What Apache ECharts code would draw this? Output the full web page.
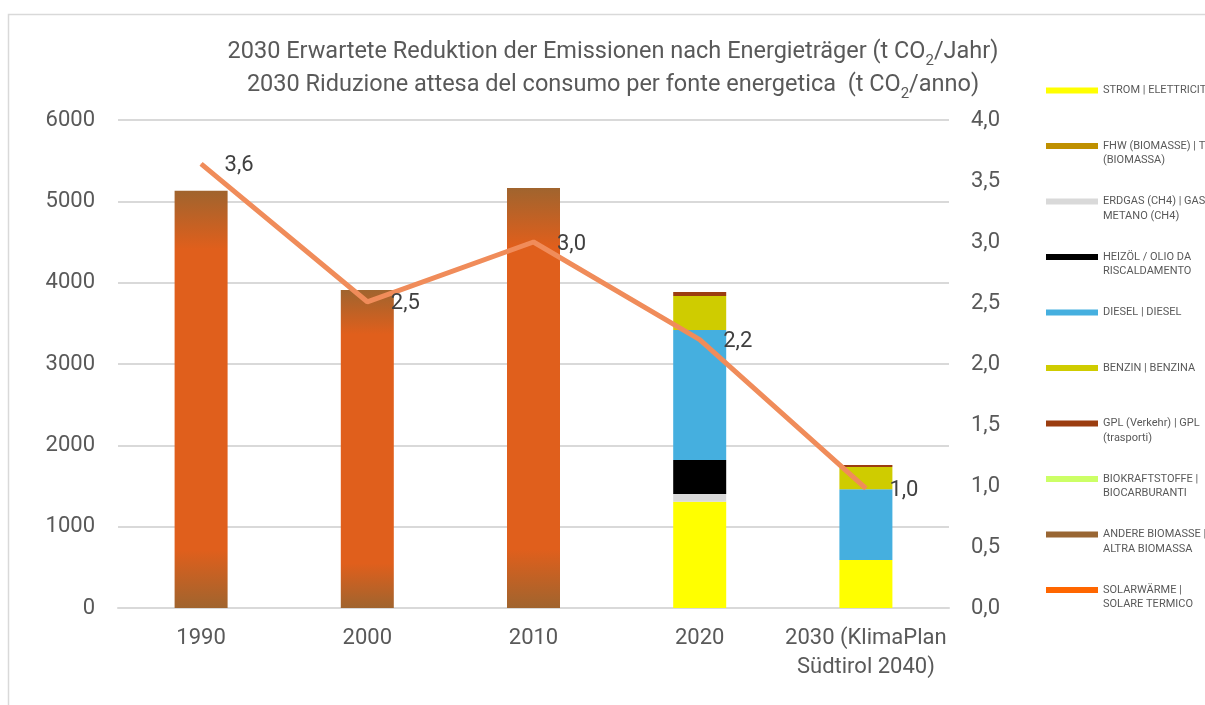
<!DOCTYPE html>
<html>
<head>
<meta charset="utf-8">
<script src="https://cdn.jsdelivr.net/npm/echarts@6/dist/echarts.min.js"></script>
<style>
html,body{margin:0;padding:0;background:#fff;}
#c{width:1205px;height:705px;}
</style>
</head>
<body>
<div id="c"></div>
<script>
// ---- data ----
const categories = ['1990', '2000', '2010', '2020', '2030 (KlimaPlan\nSüdtirol 2040)'];
const totalHistoric = [5130, 3910, 5165, null, null];
const strom       = [null, null, null, 1307, 590];
const fhw         = [null, null, null, 0, 0];
const erdgas      = [null, null, null, 95, 0];
const heizoel     = [null, null, null, 418, 0];
const diesel      = [null, null, null, 1598, 869];
const benzin      = [null, null, null, 418, 275];
const gpl         = [null, null, null, 49, 24];
const biokraft    = [null, null, null, 0, 0];
const andereBio   = [null, null, null, 0, 0];
const solar       = [null, null, null, 0, 0];
const perCapita   = [3.64, 2.51, 3.0, 2.2, 0.98];
const leftTicks   = [0, 1000, 2000, 3000, 4000, 5000, 6000];
const rightTicks  = ['0,0','0,5','1,0','1,5','2,0','2,5','3,0','3,5','4,0'];

const seriesNames = [
  'STROM | ELETTRICITÀ',
  'FHW (BIOMASSE) | TLR (BIOMASSA)',
  'ERDGAS (CH4) | GAS METANO (CH4)',
  'HEIZÖL / OLIO DA RISCALDAMENTO',
  'DIESEL | DIESEL',
  'BENZIN | BENZINA',
  'GPL (Verkehr) | GPL (trasporti)',
  'BIOKRAFTSTOFFE | BIOCARBURANTI',
  'ANDERE BIOMASSE | ALTRA BIOMASSA',
  'SOLARWÄRME | SOLARE TERMICO'
];
const legendLabels = [
  'STROM | ELETTRICITÀ',
  'FHW (BIOMASSE) | TLR\n(BIOMASSA)',
  'ERDGAS (CH4) | GAS\nMETANO (CH4)',
  'HEIZÖL / OLIO DA\nRISCALDAMENTO',
  'DIESEL | DIESEL',
  'BENZIN | BENZINA',
  'GPL (Verkehr) | GPL\n(trasporti)',
  'BIOKRAFTSTOFFE |\nBIOCARBURANTI',
  'ANDERE BIOMASSE |\nALTRA BIOMASSA',
  'SOLARWÄRME |\nSOLARE TERMICO'
];
const seriesValues = [strom, fhw, erdgas, heizoel, diesel, benzin, gpl, biokraft, andereBio, solar];
const seriesColors = ['#FFFF00', '#BF9000', '#D9D9D9', '#000000', '#45AFDF', '#CFCC00', '#9B3D10', '#CCFF66', '#996633', '#FF6600'];

// ---- chart ----
const chart = echarts.init(document.getElementById('c'), null, {renderer: 'canvas'});
const FONT = 'Roboto';
const TXT = '#595959';

const barSeries = [{
  name: 'GESAMT',
  type: 'bar',
  stack: 's',
  barWidth: 53,
  data: totalHistoric,
  itemStyle: {
    color: new echarts.graphic.LinearGradient(0, 0, 0, 1, [
      {offset: 0, color: '#A0642E'},
      {offset: 0.14, color: '#E05F1C'},
      {offset: 0.86, color: '#E05F1C'},
      {offset: 1, color: '#A0642E'}
    ])
  },
  emphasis: {disabled: true}
}];
seriesNames.forEach((n, i) => {
  barSeries.push({
    name: n,
    type: 'bar',
    stack: 's',
    barWidth: 53,
    data: seriesValues[i],
    itemStyle: {color: seriesColors[i]},
    emphasis: {disabled: true}
  });
});

const lineSeries = {
  name: 'pro Kopf',
  type: 'line',
  yAxisIndex: 1,
  data: perCapita,
  symbol: 'circle',
  symbolSize: 1,
  showSymbol: true,
  z: 10,
  itemStyle: {color: '#F08C5A'},
  lineStyle: {color: '#F08C5A', width: 5},
  emphasis: {disabled: true},
  label: {
    show: true,
    position: 'right',
    distance: 23,
    offset: [0, 2],
    fontFamily: FONT,
    fontSize: 22,
    color: '#404040',
    formatter: p => Number(p.value).toFixed(1).replace('.', ',')
  }
};

// legends: one per entry for exact placement
const LH = 14.5;
const legends = seriesNames.map((n, i) => {
  const cy = 90.5 + 55.5 * i;
  const twoLine = legendLabels[i].indexOf('\n') >= 0;
  const boxH = twoLine ? 3 * LH : LH;
  // a blank first line keeps the first text line level with the icon
  const shown = twoLine ? ' \n' + legendLabels[i] : legendLabels[i];
  return {
    data: [n],
    orient: 'vertical',
    left: 1046,
    top: cy - boxH / 2,
    padding: 0,
    itemWidth: 52,
    itemHeight: 6,
    icon: 'rect',
    selectedMode: false,
    formatter: () => shown,
    textStyle: {
      fontFamily: FONT,
      fontSize: 11,
      color: TXT,
      lineHeight: LH
    }
  };
});

const option = {
  animation: false,
  backgroundColor: '#fff',
  textStyle: {fontFamily: FONT},
  title: {
    text: '{t|2030 Erwartete Reduktion der Emissionen nach Energieträger (t CO}{s|2}{t|/Jahr)}\n' +
          '{t|2030 Riduzione attesa del consumo per fonte energetica  (t CO}{s|2}{t|/anno)}',
    left: 613,
    textAlign: 'center',
    top: 36,
    padding: 0,
    textStyle: {
      fontWeight: 'normal',
      rich: {
        t: {fontFamily: FONT, fontWeight: 'normal', fontSize: 23.5, color: TXT, lineHeight: 33},
        s: {fontFamily: FONT, fontWeight: 'normal', fontSize: 15, color: TXT, lineHeight: 18, verticalAlign: 'bottom'}
      }
    }
  },
  legend: legends,
  grid: {left: 118, right: 256, top: 120, bottom: 97, containLabel: false},
  xAxis: {
    type: 'category',
    data: categories,
    axisTick: {show: false},
    axisLine: {lineStyle: {color: '#D9D9D9', width: 2}},
    axisLabel: {
      fontFamily: FONT, fontSize: 22, color: TXT, lineHeight: 29, margin: 16, interval: 0
    }
  },
  yAxis: [{
    type: 'value',
    min: 0, max: 6000, interval: 1000,
    axisLine: {show: false},
    axisTick: {show: false},
    splitLine: {lineStyle: {color: '#D9D9D9', width: 2}},
    axisLabel: {fontFamily: FONT, fontSize: 22, color: TXT, margin: 23,
      formatter: v => String(leftTicks[Math.round(v / 1000)])}
  }, {
    type: 'value',
    min: 0, max: 4, interval: 0.5,
    axisLine: {show: false},
    axisTick: {show: false},
    splitLine: {show: false},
    axisLabel: {fontFamily: FONT, fontSize: 22, color: TXT, margin: 22,
      formatter: v => rightTicks[Math.round(v / 0.5)]}
  }],
  graphic: [{
    type: 'rect',
    silent: true,
    shape: {x: 8.5, y: 14.5, width: 1210, height: 710},
    style: {fill: 'none', stroke: '#D9D9D9', lineWidth: 1.5}
  }],
  series: barSeries.concat([lineSeries])
};
chart.setOption(option);
</script>
</body>
</html>
